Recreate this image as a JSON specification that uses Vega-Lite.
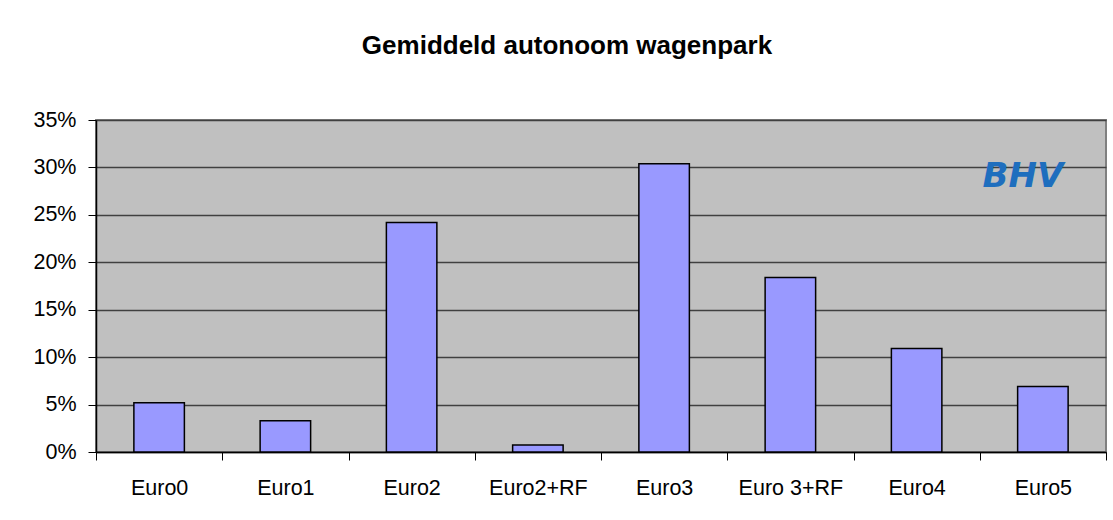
{
  "$schema": "https://vega.github.io/schema/vega-lite/v6.json",
  "width": 1010,
  "height": 332,
  "autosize": {"type": "none"},
  "padding": {"left": 96, "top": 120, "right": 7, "bottom": 68},
  "background": "white",
  "title": {
    "text": "Gemiddeld autonoom wagenpark",
    "font": "Liberation Sans",
    "fontSize": 26,
    "fontWeight": "bold",
    "color": "black",
    "anchor": "middle",
    "frame": "group",
    "dx": -34,
    "offset": 50
  },
  "config": {
    "view": {"fill": "#C0C0C0", "stroke": "#808080", "strokeWidth": 2},
    "axis": {
      "labelFont": "Liberation Sans",
      "labelFontSize": 21.5,
      "labelColor": "black",
      "tickColor": "black",
      "domainColor": "black",
      "titleFontSize": 0
    }
  },
  "data": {
    "values": [
      {"klasse": "Euro0", "aandeel": 0.052},
      {"klasse": "Euro1", "aandeel": 0.033},
      {"klasse": "Euro2", "aandeel": 0.242},
      {"klasse": "Euro2+RF", "aandeel": 0.0075},
      {"klasse": "Euro3", "aandeel": 0.304},
      {"klasse": "Euro 3+RF", "aandeel": 0.184},
      {"klasse": "Euro4", "aandeel": 0.109},
      {"klasse": "Euro5", "aandeel": 0.069}
    ]
  },
  "layer": [
    {
      "mark": {"type": "bar", "fill": "#9999FF", "stroke": "black", "strokeWidth": 1.5, "width": {"band": 0.4}},
      "encoding": {
        "x": {
          "field": "klasse",
          "type": "nominal",
          "sort": null,
          "title": null,
          "scale": {"paddingInner": 0, "paddingOuter": 0},
          "axis": {
            "labelAngle": 0,
            "tickBand": "extent",
            "tickSize": 8,
            "labelPadding": 17,
            "domainWidth": 1.5,
            "tickWidth": 1
          }
        },
        "y": {
          "field": "aandeel",
          "type": "quantitative",
          "title": null,
          "scale": {"domain": [0, 0.35], "nice": false},
          "axis": {
            "values": [0, 0.05, 0.1, 0.15, 0.2, 0.25, 0.3, 0.35],
            "format": ".0%",
            "tickSize": 8,
            "labelPadding": 12,
            "grid": true,
            "gridColor": "#404040",
            "gridWidth": 1.3,
            "gridOpacity": 1,
            "domainWidth": 1.5
          }
        }
      }
    },
    {
      "data": {"values": [{"logo": "BHV", "klasse": "Euro5", "aandeel": 0.29}]},
      "mark": {
        "type": "text",
        "font": "DejaVu Sans",
        "fontSize": 34,
        "fontStyle": "italic",
        "fontWeight": "bold",
        "color": "#1E6EBE",
        "baseline": "middle",
        "align": "center",
        "dx": -20
      },
      "encoding": {
        "x": {"field": "klasse", "type": "nominal", "sort": null},
        "y": {"field": "aandeel", "type": "quantitative"},
        "text": {"field": "logo"}
      }
    }
  ]
}
